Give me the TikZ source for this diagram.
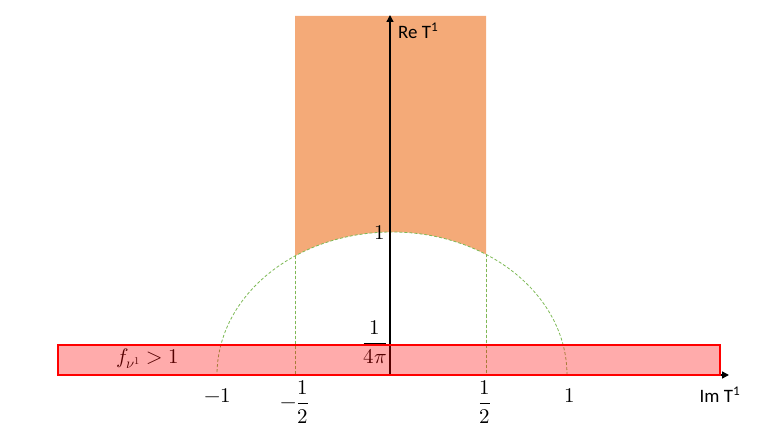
\documentclass[tikz,border=0pt]{standalone}
\usepackage{fontspec}
\usepackage{unicode-math}
\setmainfont{Carlito}
\setmathfont{Latin Modern Math}
\usetikzlibrary{arrows.meta}
\definecolor{orfill}{RGB}{244,170,120}
\definecolor{dgreen}{RGB}{125,185,85}
\tikzset{
  axisline/.style={line width=1.4bp,-{Triangle[length=7bp,width=7bp]}},
  guide/.style={dgreen,line width=0.8bp,dash pattern=on 3bp off 2bp},
  lbl/.style={inner sep=0pt,font=\fontsize{21}{24}\selectfont},
  tlbl/.style={inner sep=0pt,font=\fontsize{19}{22}\selectfont},
}
\begin{document}
\begin{tikzpicture}[x=1bp,y=-1bp]
\useasboundingbox (0,0) rectangle (779,438);
% orange region
\begin{scope}
\clip (295,16) rectangle (486,375);
\fill[orfill,even odd rule] (295,16) rectangle (486,375) (392,375) ellipse [x radius=175bp,y radius=143bp];
\end{scope}
% dashed guides
\draw[guide] (567,375) arc[start angle=0,end angle=180,x radius=175bp,y radius=143bp];
\draw[guide] (295,256) -- (295,375);
\draw[guide] (486,254.5) -- (486,375);
% axes
\coordinate (o) at (390,375);
\coordinate (ytop) at (390,15);
\coordinate (xl) at (58,375);
\coordinate (xr) at (729,375);
\draw[axisline] (o) -- (ytop);
\draw[axisline] (xl) -- (xr);
% labels
\node[tlbl,anchor=west] (re) at (398,31) {Re T\textsuperscript{1}};
\node[tlbl] (im) at (720,395) {Im T\textsuperscript{1}};
\node[lbl] (m1) at (218,396) {$-1$};
\node[lbl] (mh) at (295,402) {$-\displaystyle\frac{1}{2}$};
\node[lbl] (ph) at (485,402) {$\displaystyle\frac{1}{2}$};
\node[lbl] (p1) at (570,396) {$1$};
\node[lbl] (one) at (380,233) {$1$};
\node[lbl] (q) at (375,342) {$\displaystyle\frac{1}{4\pi}$};
\node[lbl] (f) at (148,359) {$f_{\nu^1} > 1$};
% red strip
\fill[red,fill opacity=0.33] (58,345) rectangle (720,375);
\draw[red,line width=1.4bp] (58,345) rectangle (720,375);
\end{tikzpicture}
\end{document}
